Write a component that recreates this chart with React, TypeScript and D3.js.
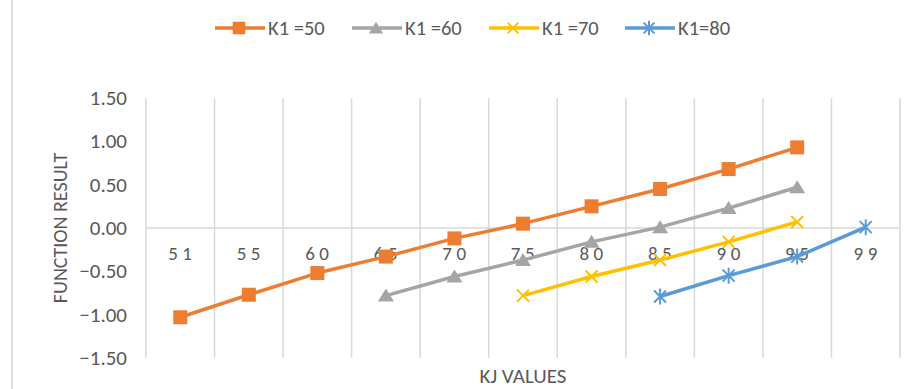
import React from 'react';
import * as d3 from 'd3';

const CATEGORIES = ['51', '55', '60', '65', '70', '75', '80', '85', '90', '95', '99'];
const K1_50 = [-1.03, -0.77, -0.52, -0.33, -0.12, 0.05, 0.25, 0.45, 0.68, 0.93, null];
const K1_60 = [null, null, null, -0.78, -0.56, -0.37, -0.16, 0.01, 0.23, 0.47, null];
const K1_70 = [null, null, null, null, null, -0.78, -0.56, -0.37, -0.16, 0.07, null];
const K1_80 = [null, null, null, null, null, null, null, -0.79, -0.55, -0.33, 0.01];
const Y_TICKS = [-1.5, -1, -0.5, 0, 0.5, 1, 1.5];

const W = 914;
const H = 389;
const FONT = "Carlito, 'Liberation Sans Narrow', 'Open Sans', sans-serif";
const TEXT = '#595959';

type Marker = 'square' | 'triangle' | 'x' | 'star';
const SERIES: { name: string; values: (number | null)[]; color: string; marker: Marker }[] = [
  { name: 'K1 =50', values: K1_50, color: '#ED7D31', marker: 'square' },
  { name: 'K1 =60', values: K1_60, color: '#A5A5A5', marker: 'triangle' },
  { name: 'K1 =70', values: K1_70, color: '#FFC000', marker: 'x' },
  { name: 'K1=80', values: K1_80, color: '#5B9BD5', marker: 'star' },
];
const LEGEND_X = [215, 352, 489, 625];

const MarkerShape: React.FC<{ kind: Marker; color: string; s?: number }> = ({ kind, color, s = 1 }) => {
  if (kind === 'square') return <rect x={-7 * s} y={-7 * s} width={14 * s} height={14 * s} fill={color} />;
  if (kind === 'triangle') return <path d={`M0,${-7 * s} L${8 * s},${6 * s} L${-8 * s},${6 * s} Z`} fill={color} />;
  if (kind === 'x')
    return (
      <path
        d={`M${-6 * s},${-6 * s} L${6 * s},${6 * s} M${-6 * s},${6 * s} L${6 * s},${-6 * s}`}
        stroke={color}
        strokeWidth={2}
        fill="none"
      />
    );
  return (
    <path
      d={`M${-6 * s},${-6 * s} L${6 * s},${6 * s} M${-6 * s},${6 * s} L${6 * s},${-6 * s} M0,${-8 * s} L0,${8 * s}`}
      stroke={color}
      strokeWidth={2}
      fill="none"
    />
  );
};

export default function App() {
  const x = d3.scaleBand<string>().domain(CATEGORIES).range([146, 900]).padding(0);
  const y = d3.scaleLinear().domain([-1.5, 1.5]).range([358, 98]);
  const cx = (i: number) => (x(CATEGORIES[i]) ?? 0) + x.bandwidth() / 2;
  const line = d3
    .line<number | null>()
    .defined(d => d !== null)
    .x((_, i) => cx(i))
    .y(d => y(d as number));

  const bounds = CATEGORIES.map(c => x(c) ?? 0).concat([x.range()[1]]);

  return (
    <svg
      width={W}
      height={H}
      style={{ position: 'absolute', left: 0, top: 0, background: '#fff', fontFamily: FONT }}
    >
      <line x1={12} x2={12} y1={0} y2={H} stroke="#D9D9D9" strokeWidth={1.5} />

      {/* Legend */}
      {SERIES.map((s, i) => (
        <g key={s.name} transform={`translate(${LEGEND_X[i]},28)`}>
          <line x1={0} x2={50} y1={0} y2={0} stroke={s.color} strokeWidth={3.5} />
          <g transform="translate(24,0)">
            <MarkerShape kind={s.marker} color={s.color} s={0.9} />
          </g>
          <text x={53} y={7} fontSize={20.5} fill={TEXT}>
            {s.name}
          </text>
        </g>
      ))}

      {/* Gridlines */}
      {bounds.map((b, i) => (
        <line key={i} x1={b} x2={b} y1={y(1.5)} y2={y(-1.5)} stroke="#D9D9D9" strokeWidth={1.5} />
      ))}
      <line x1={x.range()[0]} x2={x.range()[1]} y1={y(0)} y2={y(0)} stroke="#D9D9D9" strokeWidth={1.5} />

      {/* Y axis labels */}
      {Y_TICKS.map(t => (
        <text key={t} x={127} y={y(t) + 7} textAnchor="end" fontSize={21} fill={TEXT}>
          {d3.format('.2f')(t)}
        </text>
      ))}

      {/* Category labels */}
      {CATEGORIES.map((c, i) => (
        <text
          key={c}
          x={cx(i) + 2}
          y={y(0) + 32}
          textAnchor="middle"
          fontSize={19}
          letterSpacing={4.5}
          fill={TEXT}
        >
          {c}
        </text>
      ))}

      {/* Series */}
      {SERIES.map(s => (
        <g key={s.name}>
          <path d={line(s.values) ?? ''} fill="none" stroke={s.color} strokeWidth={3.5} strokeLinejoin="round" />
          {s.values.map((v, i) =>
            v === null ? null : (
              <g key={i} transform={`translate(${cx(i)},${y(v)})`}>
                <MarkerShape kind={s.marker} color={s.color} />
              </g>
            )
          )}
        </g>
      ))}

      {/* Axis titles */}
      <text
        transform={`translate(67,${y(0)}) rotate(-90)`}
        textAnchor="middle"
        fontSize={20}
        fill={TEXT}
      >
        FUNCTION RESULT
      </text>
      <text x={(x.range()[0] + x.range()[1]) / 2} y={383} textAnchor="middle" fontSize={21} fill={TEXT}>
        KJ VALUES
      </text>
    </svg>
  );
}
